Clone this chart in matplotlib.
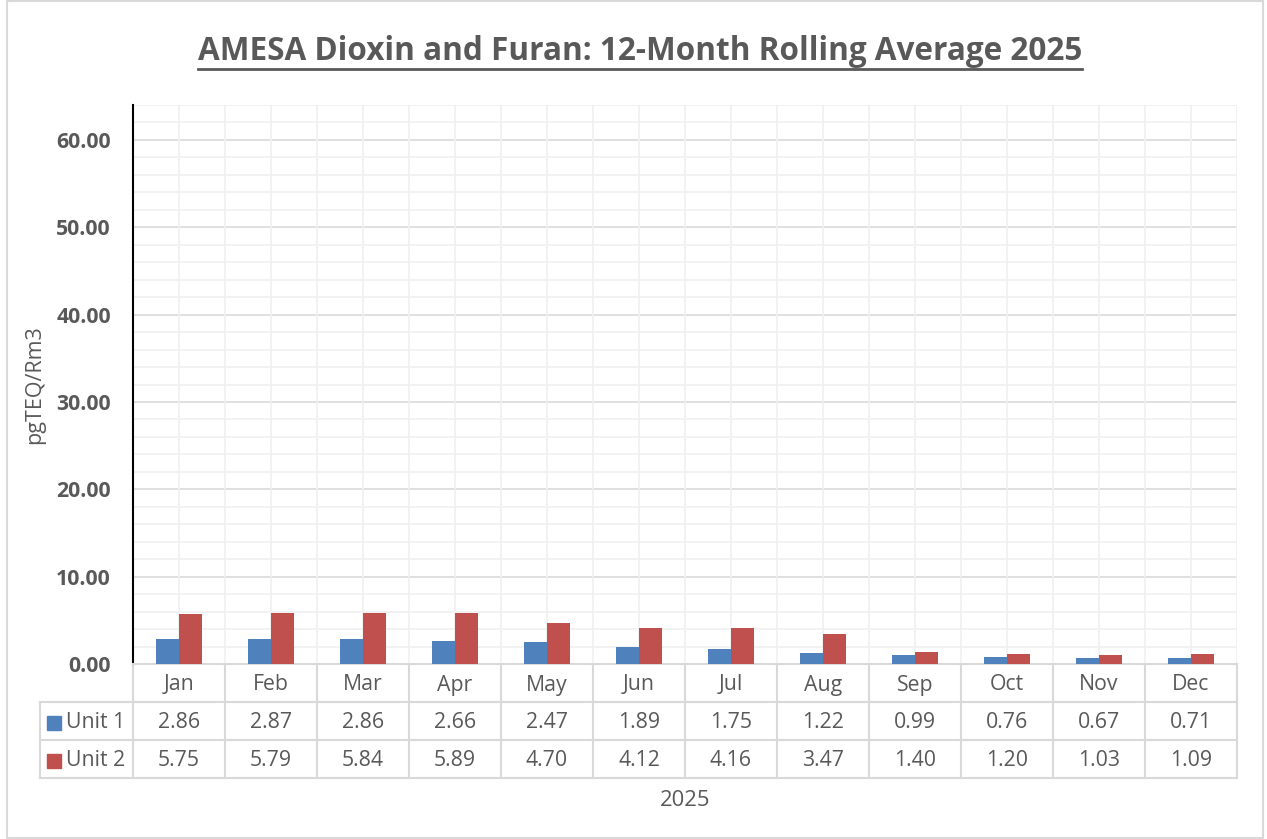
import numpy as np
import matplotlib.pyplot as plt
from matplotlib.transforms import blended_transform_factory

# data
months = ['Jan', 'Feb', 'Mar', 'Apr', 'May', 'Jun',
          'Jul', 'Aug', 'Sep', 'Oct', 'Nov', 'Dec']
unit1 = [2.86, 2.87, 2.86, 2.66, 2.47, 1.89, 1.75, 1.22, 0.99, 0.76, 0.67, 0.71]
unit2 = [5.75, 5.79, 5.84, 5.89, 4.70, 4.12, 4.16, 3.47, 1.40, 1.20, 1.03, 1.09]
series_names = ['Unit 1', 'Unit 2']
year_label = '2025'

blue = '#4F81BD'
red = '#C0504D'
txt = '#595959'
tbl_line = '#D9D9D9'

plt.rcParams['font.family'] = ['Open Sans', 'DejaVu Sans']

W, H = 1267, 839
fig = plt.figure(figsize=(W / 100, H / 100), dpi=100)


def fx(px):
    return px / W


def fy(py):
    return 1 - py / H


# axes placement (pixels)
L, R, T, B = 133, 1237, 105, 664
ax = fig.add_axes([fx(L), fy(B), fx(R) - fx(L), fy(T) - fy(B)])

n = len(months)
x = np.arange(n)
w = 0.245
ax.bar(x - w / 2, unit1, w, color=blue, zorder=3)
ax.bar(x + w / 2, unit2, w, color=red, zorder=3)

ax.set_xlim(-0.5, n - 0.5)
ax.set_ylim(0, 64)
ax.set_yticks(np.arange(0, 61, 10))
ax.set_yticklabels([f'{v:.2f}' for v in np.arange(0, 61, 10)],
                   fontsize=15.3, fontweight='bold', color=txt)
ax.set_yticks(np.arange(0, 65, 2), minor=True)
ax.tick_params(axis='y', which='both', length=0, pad=16)
ax.set_xticks([])

# gridlines
for v in np.arange(2, 65, 2):
    c = '#D9D9D9' if v % 10 == 0 else '#F0F0F0'
    ax.axhline(v, color=c, lw=1.2, zorder=1)
for k in range(n + 1):
    ax.axvline(k - 0.5, color='#F0F0F0', lw=1.2, zorder=1)
for k in range(n):
    ax.axvline(k, color='#F0F0F0', lw=1.2, zorder=1)

for s in ['top', 'right']:
    ax.spines[s].set_visible(False)
ax.spines['bottom'].set_color(tbl_line)
ax.spines['bottom'].set_linewidth(1.5)
ax.spines['left'].set_color('black')
ax.spines['left'].set_linewidth(1.5)

ax.set_ylabel('pgTEQ/Rm3', fontsize=15.5, color=txt, labelpad=8)

# data table below the axes
tr = blended_transform_factory(ax.transData, fig.transFigure)
rows = [B, 702, 740, 778]
tbl_left = 40

for py in rows[1:]:
    fig.add_artist(plt.Line2D([fx(tbl_left), fx(R)], [fy(py), fy(py)],
                              color=tbl_line, lw=1.5))
for k in range(n + 1):
    ax.plot([k - 0.5, k - 0.5], [fy(rows[0]), fy(rows[-1])], color=tbl_line,
            lw=1.5, transform=tr, clip_on=False)
fig.add_artist(plt.Line2D([fx(tbl_left), fx(tbl_left)], [fy(rows[1]), fy(rows[-1])],
                          color=tbl_line, lw=1.5))

for i, m in enumerate(months):
    ax.text(i, fy((rows[0] + rows[1]) / 2 + 2), m, transform=tr, ha='center',
            va='center', fontsize=15.3, color=txt)
for r, (vals, name, col) in enumerate(zip([unit1, unit2], series_names, [blue, red])):
    yc = fy((rows[r + 1] + rows[r + 2]) / 2 + 2)
    for i, v in enumerate(vals):
        ax.text(i, yc, f'{v:.2f}', transform=tr, ha='center', va='center',
                fontsize=15.3, color=txt)
    fig.add_artist(plt.Rectangle((fx(47), yc - 7 / H), 14 / W, 14 / H,
                                 color=col, transform=fig.transFigure))
    fig.text(fx(66), yc, name, ha='left', va='center', fontsize=15.3, color=txt)

fig.text(fx((L + R) / 2), fy(800), year_label, ha='center', va='center',
         fontsize=15.8, color=txt)

# title
title = fig.text(fx(640), fy(52), 'AMESA Dioxin and Furan: 12-Month Rolling Average 2025',
                 ha='center', va='center', fontsize=22.7, fontweight='bold', color=txt)
fig.canvas.draw()
bb = title.get_window_extent()
fig.add_artist(plt.Line2D([bb.x0 / W, bb.x1 / W], [fy(69), fy(69)], color=txt, lw=2))

# outer border
fig.add_artist(plt.Rectangle((fx(7), fy(838)), fx(1256), fy(1) - fy(838),
                             fill=False, ec=tbl_line, lw=1.5, transform=fig.transFigure))

fig.savefig('out.png', dpi=100, facecolor='white')
